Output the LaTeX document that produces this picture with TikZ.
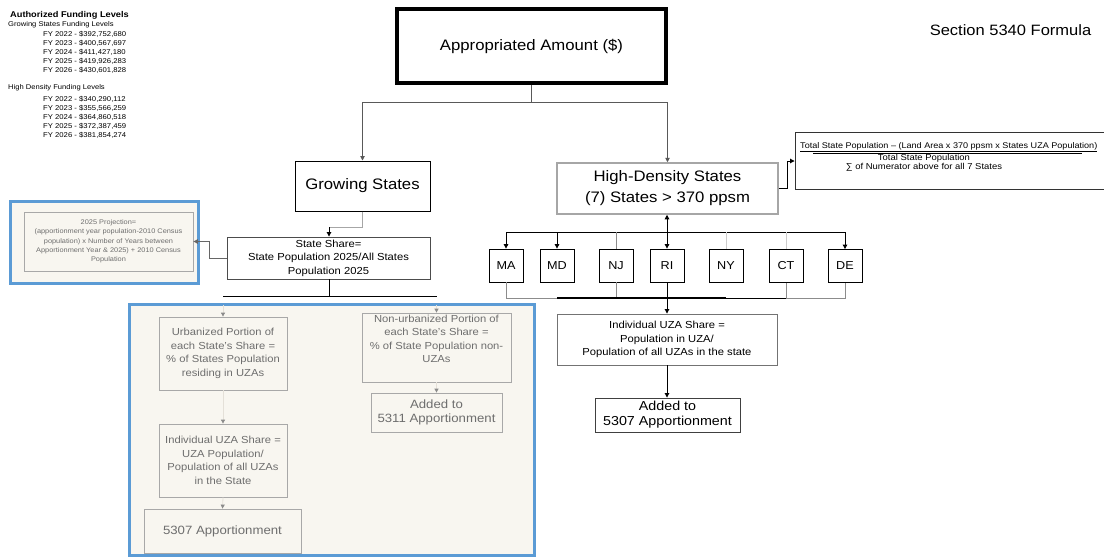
\documentclass[tikz,border=0pt]{standalone}
\usepackage{fontspec}
\setmainfont[FakeStretch=1.1]{Liberation Sans}
\usetikzlibrary{arrows.meta}
\definecolor{cream}{HTML}{F8F6F0}
\definecolor{bluef}{HTML}{5B9BD5}
\definecolor{ptext}{HTML}{6E6E6E}
\definecolor{pbord}{HTML}{A8A8A8}
\definecolor{pline}{HTML}{E4E0D8}
\begin{document}
\begin{tikzpicture}[x=1pt,y=-1pt,
  box/.style={draw, rectangle, inner sep=0pt, align=center},
  bigtxt/.style={font=\fontsize{15.2}{21}\selectfont},
  midtxt/.style={font=\fontsize{10.2}{13.5}\selectfont},
  pbox/.style={box, draw=pbord, fill=cream, text=ptext, line width=0.8pt},
  frame/.style={draw=bluef, fill=cream, line width=3pt, inner sep=0pt, rectangle},
  st/.style={box, line width=0.8pt, minimum width=34pt, minimum height=33pt, font=\fontsize{11.5}{13}\selectfont},
  arr/.style={-{Triangle[length=4.5pt,width=4.5pt]}},
  parr/.style={draw=pline, line width=0.8pt, -{Triangle[length=4pt,width=4pt,color=ptext!80]}},
  blk/.style={draw=black, line width=0.9pt},
  gline/.style={draw=black!45, line width=0.9pt},
  fy/.style={anchor=west, inner sep=0pt, font=\fontsize{7}{8}\selectfont},
  ftxt/.style={inner sep=0pt, font=\fontsize{8.6}{10}\selectfont}
]
\useasboundingbox (0,0) rectangle (1104,560);

% ---- funding levels ----
\node[anchor=west, inner sep=0pt, font=\fontsize{8.4}{10}\selectfont\bfseries] (fundT) at (10,15) {Authorized Funding Levels};
\node[anchor=west, inner sep=0pt, font=\fontsize{6.9}{8}\selectfont] (fundG) at (8,25) {Growing States Funding Levels};
\foreach \t [count=\i] in {{FY 2022 - \$392,752,680},{FY 2023 - \$400,567,697},{FY 2024 - \$411,427,180},{FY 2025 - \$419,926,283},{FY 2026 - \$430,601,828}}
  \node[fy] (g\i) at (43,25+9*\i) {\t};
\node[anchor=west, inner sep=0pt, font=\fontsize{6.9}{8}\selectfont] (fundH) at (8,88) {High Density Funding Levels};
\foreach \t [count=\i] in {{FY 2022 - \$340,290,112},{FY 2023 - \$355,566,259},{FY 2024 - \$364,860,518},{FY 2025 - \$372,387,459},{FY 2026 - \$381,854,274}}
  \node[fy] (h\i) at (43,90+9*\i) {\t};

% ---- title ----
\node[inner sep=0pt, font=\fontsize{15}{18}\selectfont] (sec) at (1010.5,30) {Section 5340 Formula};

% ---- main boxes ----
\node[box, line width=4pt, minimum width=269pt, minimum height=74pt, bigtxt] (app) at (531.5,46) {Appropriated Amount (\$)};
\node[box, line width=1pt, minimum width=135pt, minimum height=50pt, bigtxt] (grow) at (362.5,186) {Growing States};
\node[box, draw=black!35, line width=1.5pt, minimum width=221pt, minimum height=51pt, bigtxt] (hd) at (667.5,188.5) {High-Density States\\(7) States > 370 ppsm};
\node[box, draw=black!70, line width=0.9pt, minimum width=203pt, minimum height=42pt, midtxt] (share) at (328.5,258) {State Share=\\State Population 2025/All States\\Population 2025};

% ---- projection ----
\node[frame, minimum width=188pt, minimum height=82pt] (projframe) at (104.5,242.5) {};
\node[pbox, minimum width=169pt, minimum height=59pt, font=\fontsize{6.7}{9.3}\selectfont] (proj) at (108.5,241.5) {2025 Projection=\\(apportionment year population-2010 Census\\population) x Number of Years between\\Apportionment Year \& 2025) + 2010 Census\\Population};

% ---- growing panel ----
\node[frame, minimum width=405pt, minimum height=251pt] (panel) at (332,430) {};
\node[pbox, minimum width=128pt, minimum height=73pt, midtxt] (urb) at (223,353.5) {Urbanized Portion of\\each State's Share =\\\% of States Population\\residing in UZAs};
\node[pbox, minimum width=128pt, minimum height=73pt, midtxt] (ind) at (223,460.5) {Individual UZA Share =\\UZA Population/\\Population of all UZAs\\in the State};
\node[pbox, minimum width=157pt, minimum height=44pt, font=\fontsize{12}{14}\selectfont] (p5307) at (222.5,531) {5307 Apportionment};
\node[pbox, minimum width=149pt, minimum height=69pt] (nonurb) at (436.5,347.5) {};
\node[anchor=north, inner sep=0pt, text=ptext, align=center, midtxt] (nonurbt) at (436.5,314.5) {Non-urbanized Portion of\\each State's Share =\\\% of State Population non-\\UZAs};
\node[pbox, minimum width=131pt, minimum height=39pt, font=\fontsize{12}{14}\selectfont] (p5311) at (436.5,412.5) {Added to\\5311 Apportionment};

\coordinate (pu) at (223,305);
\coordinate (pn) at (436.5,305);
\draw[parr] (pu) -- (urb.north);
\draw[parr] (urb.south) -- (ind.north);
\draw[parr] (ind.south) -- (p5307.north);
\draw[parr] (pn) -- (nonurb.north);
\draw[parr] (nonurb.south) -- (p5311.north);

% ---- left connectors ----
\draw[draw=black!65, line width=0.9pt, arr] (app.south) -- ++(0,17) -| (grow.north);
\draw[draw=black!65, line width=0.9pt, arr] (app.south) ++(0,17) -| (hd.north);
\coordinate (gb) at (329,227);
\draw[draw=black!35, line width=0.9pt] (grow.south) |- (gb);
\draw[blk, arr] (gb) -- (share.north -| gb);
\draw[draw=black!60, line width=0.9pt, arr] (share.west) -- ++(-17,0) |- (proj.east);
\coordinate (sb) at (329,296);
\coordinate (sbl) at (223,296);
\coordinate (sbr) at (437,296);
\draw[blk] (share.south -| sb) -- (sb);
\draw[blk] (sbl) -- (sbr);

% ---- states ----
\node[st] (ma) at (506,265.5) {MA};
\node[st] (md) at (557,265.5) {MD};
\node[st] (nj) at (616,265.5) {NJ};
\node[st] (ri) at (667,265.5) {RI};
\node[st] (ny) at (726,265.5) {NY};
\node[st] (ct) at (786,266) {CT};
\node[st] (de) at (845,266) {DE};

\coordinate (busT) at (667,232);
\coordinate (busB) at (667,298);
\draw[blk] (ma.north |- busT) -- (de.north |- busT);
\draw[blk, arr] (ma.north |- busT) -- (ma.north);
\draw[blk, arr] (md.north |- busT) -- (md.north);
\draw[blk, arr] (de.north |- busT) -- (de.north);
\draw[gline] (nj.north |- busT) -- (nj.north);
\draw[draw=black!20, line width=0.9pt] (ny.north |- busT) -- (ny.north);
\draw[draw=black!20, line width=0.9pt] (ct.north |- busT) -- (ct.north);
\draw[blk, {Triangle[length=4.5pt,width=4.5pt]}-{Triangle[length=4.5pt,width=4.5pt]}] (ri.north |- hd.south) -- (ri.north);

\draw[gline] (ma.south) -- (ma.south |- busB) -- (de.south |- busB) -- (de.south);
\draw[gline] (nj.south) -- (nj.south |- busB);
\draw[gline] (ct.south) -- (ct.south |- busB);
\draw[blk] (md.south |- busB) -- (ct.south |- busB);
\draw[draw=black, line width=2pt] (md.south |- busB) -- (ny.south |- busB);

% ---- right lower ----
\node[box, draw=black!55, line width=0.9pt, minimum width=220pt, minimum height=51pt, midtxt] (indr) at (667,339.5) {Individual UZA Share =\\Population in UZA/\\Population of all UZAs in the state};
\node[box, draw=black!75, line width=0.9pt, minimum width=145pt, minimum height=34pt, font=\fontsize{13}{15}\selectfont] (addr) at (667.5,415) {Added to\\5307 Apportionment};
\draw[blk, arr] (ri.south) -- (indr.north -| ri.south);
\draw[blk, arr] (indr.south) -- (addr.north -| indr.south);

% ---- formula ----
\node[box, draw=black!80, line width=0.9pt, minimum width=320pt, minimum height=57pt] (fbox) at (955,161) {};
\draw[blk, arr] (hd.east) -- ++(9,0) |- (fbox.west);
\node[inner sep=0pt, anchor=west, font=\fontsize{8.25}{10}\selectfont] (ft1) at (800,147) {\underline{Total State Population – (Land Area x 370 ppsm x States UZA Population)}};
\coordinate (barL) at (813,153);
\coordinate (barR) at (1082,153);
\draw[blk] (barL) -- (barR);
\node[ftxt] (ft2) at (924,158.5) {Total State Population};
\node[ftxt] (ft3) at (924,167) {∑ of Numerator above for all 7 States};
\end{tikzpicture}
\end{document}
